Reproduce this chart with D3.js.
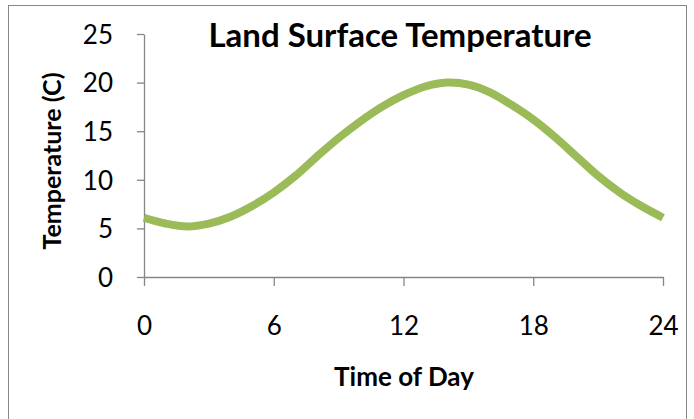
<!DOCTYPE html>
<html>
<head>
<meta charset="utf-8">
<script src="https://cdn.jsdelivr.net/npm/d3@7"></script>
<style>
  body { margin: 0; background: #fff; }
  svg { display: block; font-family: Lato, "Open Sans", sans-serif; }
</style>
</head>
<body>
<svg width="694" height="419"></svg>
<script>
const hours = [0, 1, 2, 3, 4, 5, 6, 7, 8, 9, 10, 11, 12, 13, 14, 15, 16, 17, 18, 19, 20, 21, 22, 23, 24];
const temps = [6.1, 5.5, 5.2, 5.5, 6.2, 7.3, 8.7, 10.4, 12.4, 14.3, 16.0, 17.5, 18.7, 19.6, 20, 19.8, 19, 17.7, 16.2, 14.4, 12.4, 10.4, 8.7, 7.3, 6.1];
const xTicks = [0, 6, 12, 18, 24];
const yTicks = [0, 5, 10, 15, 20, 25];

const svg = d3.select("svg");
const axisColor = "#868686";

// chart border
svg.append("rect")
  .attr("x", 8.5).attr("y", 5.5)
  .attr("width", 678).attr("height", 430)
  .attr("fill", "none")
  .attr("stroke", axisColor);

const x = d3.scaleLinear().domain([0, 24]).range([144, 663]);
const y = d3.scaleLinear().domain([0, 25]).range([277, 34]);

// y axis
const yAxis = svg.append("g")
  .attr("transform", "translate(144,0)")
  .call(d3.axisLeft(y).tickValues(yTicks).tickSize(7).tickSizeOuter(0).tickPadding(24));

// x axis
const xAxis = svg.append("g")
  .attr("transform", "translate(0,277)")
  .call(d3.axisBottom(x).tickValues(xTicks).tickSize(9).tickSizeOuter(0).tickPadding(31));

[xAxis, yAxis].forEach(g => {
  g.select(".domain").attr("stroke", axisColor).attr("stroke-width", 1.3);
  g.selectAll(".tick line").attr("stroke", axisColor).attr("stroke-width", 1.3);
  g.selectAll(".tick text")
    .attr("fill", "#000")
    .style("font-size", "26px")
    .style("font-family", "Lato, 'Open Sans', sans-serif");
});
yAxis.selectAll(".tick text").attr("dy", "0.36em");

// the curve
svg.append("path")
  .datum(hours.map((h, i) => [h, temps[i]]))
  .attr("fill", "none")
  .attr("stroke", "#9BBB59")
  .attr("stroke-width", 8)
  .attr("d", d3.line()
    .x(d => x(d[0]))
    .y(d => y(d[1]))
    .curve(d3.curveCatmullRom));

svg.append("text")
  .attr("x", 400).attr("y", 47)
  .attr("text-anchor", "middle")
  .style("font-size", "33px")
  .style("font-weight", "bold")
  .text("Land Surface Temperature");

svg.append("text")
  .attr("x", 404).attr("y", 386)
  .attr("text-anchor", "middle")
  .style("font-size", "26px")
  .style("font-weight", "bold")
  .text("Time of Day");

svg.append("text")
  .attr("transform", "translate(61,161) rotate(-90)")
  .attr("text-anchor", "middle")
  .style("font-size", "25px")
  .style("font-weight", "bold")
  .text("Temperature (C)");
</script>
</body>
</html>
